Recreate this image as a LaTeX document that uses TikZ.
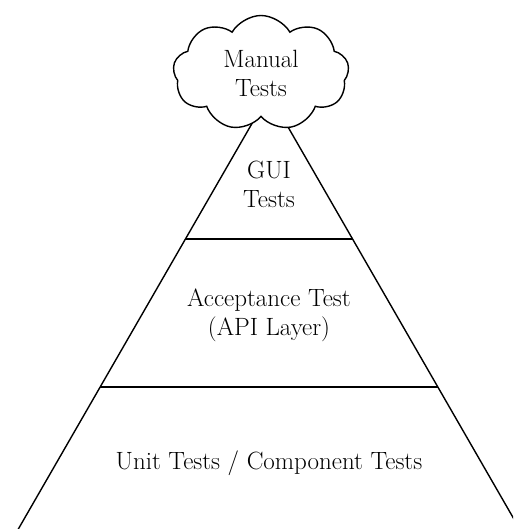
\documentclass[tikz,border=0pt]{standalone}
\usetikzlibrary{shapes.symbols}

\begin{document}
\begin{tikzpicture}[
    x=1pt, y=-1pt,
    font=\fontsize{25}{29}\selectfont,
    edge/.style={draw=black, line width=1.4pt},
    cloudbox/.style={
        draw=black, fill=white, line width=1.4pt,
        cloud, cloud puffs=9, cloud puff arc=120, aspect=1.5,
        minimum width=176pt, minimum height=115pt,
        inner sep=0pt, align=center,
    },
    lbl/.style={align=center, inner sep=0pt},
]

% ===== Frame (the base runs off the page) =====
\clip (0,0) rectangle (513,529);

% ===== Pyramid =====
\coordinate (apex)  at (269,94);
\coordinate (baseL) at (12,540);
\coordinate (baseR) at (526,540);

\draw[edge] (baseL) -- (apex) -- (baseR);

% layer separators
\coordinate (guiL) at (185.5,239);
\coordinate (guiR) at (352.5,239);
\coordinate (apiL) at (100,387);
\coordinate (apiR) at (438,387);

\draw[edge] (guiL) -- (guiR);
\draw[edge] (apiL) -- (apiR);

% ===== Labels =====
\node[lbl] (gui)  at (269,184)   {GUI\\Tests};
\node[lbl] (api)  at (269,315)   {Acceptance Test\\(API Layer)};
\node[lbl] (unit) at (269,463)   {Unit Tests / Component Tests};

% ===== Cloud on top =====
\node[cloudbox] (manual) at (261,73) {Manual\\Tests};

\end{tikzpicture}
\end{document}
